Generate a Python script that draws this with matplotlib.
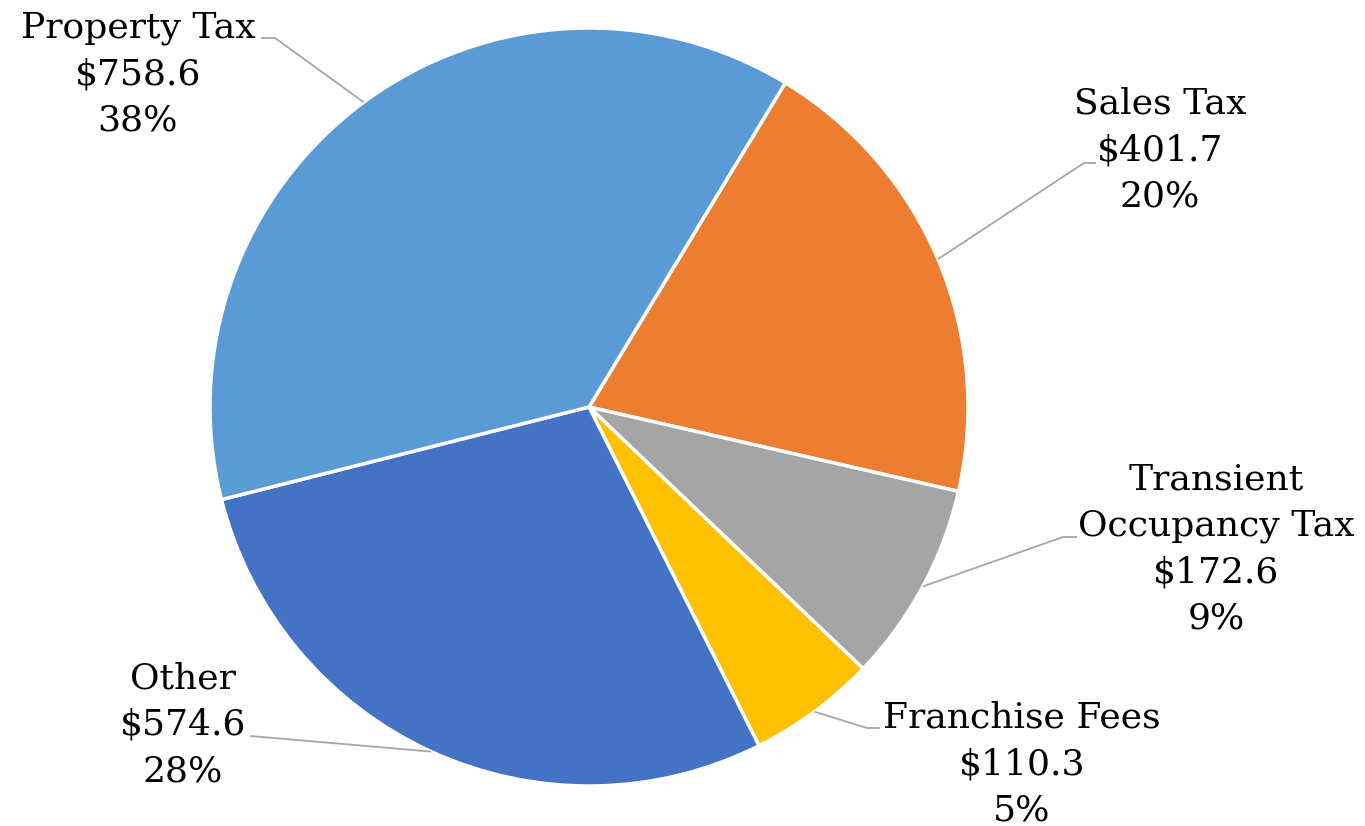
import numpy as np
import matplotlib
matplotlib.use("Agg")
import matplotlib.pyplot as plt

# revenue by source ($ millions)
labels = ["Sales Tax", "Transient\nOccupancy Tax", "Franchise Fees", "Other", "Property Tax"]
values = [401.7, 172.6, 110.3, 574.6, 758.6]
pct_text = ["20%", "9%", "5%", "28%", "38%"]
colors = ["#ED7D31", "#A5A5A5", "#FFC000", "#4472C4", "#5B9BD5"]

W, H = 1365, 826
# label layout in pixel coords (x, y from top): text centre, elbow, end of leader
label_pos = [(1160, 150), (1216, 549), (1022, 764), (183, 725), (138, 74)]
elbows = [(1084, 163), (1063, 537), (867, 728), (262, 737), (275, 38)]
line_ends = [(1096, 163), (1077, 537), (880, 728), (250, 736), (261, 38)]


def py(y):
    return H - y


fig = plt.figure(figsize=(W / 100, H / 100), dpi=100)
ax = fig.add_axes([0, 0, 1, 1])

cx, cy, r = 589, py(407), 379
wedges, _ = ax.pie(values, colors=colors, startangle=58.8, counterclock=False,
                   center=(cx, cy), radius=r,
                   wedgeprops=dict(edgecolor="white", linewidth=2.5))

ax.set_xlim(0, W)
ax.set_ylim(0, H)
ax.set_aspect("equal")
ax.axis("off")

for w, lab, v, p, tp, el, le in zip(wedges, labels, values, pct_text,
                                     label_pos, elbows, line_ends):
    mid = np.deg2rad((w.theta1 + w.theta2) / 2)
    sx, sy = cx + r * np.cos(mid), cy + r * np.sin(mid)
    ax.plot([sx, el[0], le[0]], [sy, py(el[1]), py(le[1])],
            color="#A6A6A6", lw=1.3, solid_capstyle="butt")
    ax.text(tp[0], py(tp[1]), f"{lab}\n${v:.1f}\n{p}", ha="center", va="center",
            multialignment="center", fontsize=26, family="DejaVu Serif",
            linespacing=1.45, color="black")

fig.savefig("out.png", dpi=100)
